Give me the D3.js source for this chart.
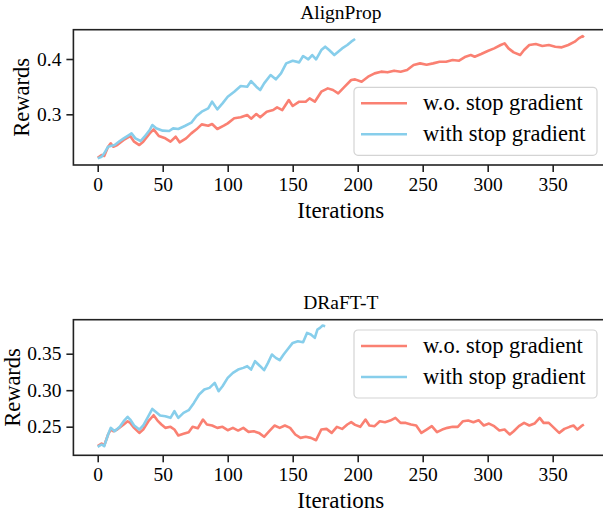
<!DOCTYPE html>
<html>
<head>
<meta charset="utf-8">
<script src="https://cdnjs.cloudflare.com/ajax/libs/d3/7.8.5/d3.min.js"></script>
<style>
  body { margin: 0; background: #fff; }
  svg text { font-family: "Liberation Serif", "DejaVu Serif", serif; fill: #000; }
</style>
</head>
<body>
<svg id="chart" width="603" height="513"></svg>
<script>
var seriesNames = ["w.o. stop gradient", "with stop gradient"];
var colors = ["#FA8072", "#87CEEB"];
var xTicks = [0, 50, 100, 150, 200, 250, 300, 350];

// AlignProp, w.o. stop gradient
var alignWoIter = [0,3,5,8,10,12,15,20,25,28,32,35,40,43,47,52,56,60,63,68,72,76,80,85,88,92,97,100,105,110,115,118,122,125,130,135,138,142,147,150,155,160,163,167,172,177,181,185,190,195,198,203,208,213,218,223,228,233,238,243,248,253,258,263,268,273,278,283,287,290,295,300,305,310,313,316,320,325,328,332,337,342,347,352,357,362,367,370,373,374];
var alignWoVal = [0.2215,0.2264,0.2246,0.2414,0.2475,0.2414,0.2444,0.2535,0.2607,0.2505,0.2444,0.2505,0.2655,0.2728,0.2607,0.2565,0.2505,0.2595,0.2493,0.2565,0.2655,0.2728,0.2818,0.2794,0.2824,0.2734,0.2794,0.2836,0.2927,0.2945,0.2987,0.2921,0.3005,0.2945,0.3047,0.3077,0.3126,0.3077,0.3258,0.3150,0.3228,0.3228,0.3288,0.3228,0.3409,0.3469,0.3439,0.3379,0.3499,0.3620,0.3632,0.3590,0.3680,0.3740,0.3771,0.3759,0.3789,0.3771,0.3801,0.3891,0.3921,0.3897,0.3921,0.3951,0.3951,0.3982,0.3969,0.4042,0.4072,0.4042,0.4090,0.4144,0.4192,0.4253,0.4283,0.4192,0.4120,0.4072,0.4162,0.4253,0.4271,0.4235,0.4253,0.4223,0.4211,0.4253,0.4313,0.4373,0.4415,0.4391];

// AlignProp, with stop gradient
var alignWithIter = [0,3,5,8,10,13,17,20,24,26,29,33,36,40,42,45,50,55,58,62,67,72,76,80,85,88,92,96,100,105,110,115,118,122,125,128,133,137,141,145,150,155,158,162,165,168,172,175,178,182,185,188,192,195,198];
var alignWithVal = [0.2203,0.2233,0.2294,0.2414,0.2426,0.2444,0.2517,0.2565,0.2625,0.2655,0.2565,0.2517,0.2595,0.2716,0.2806,0.2746,0.2704,0.2698,0.2746,0.2734,0.2788,0.2848,0.2969,0.3047,0.3107,0.3228,0.3089,0.3198,0.3318,0.3409,0.3511,0.3499,0.3602,0.3499,0.3439,0.3560,0.3710,0.3632,0.3740,0.3921,0.3969,0.3939,0.4054,0.3994,0.4072,0.3994,0.4162,0.4223,0.4162,0.4072,0.4132,0.4192,0.4253,0.4313,0.4361];

// DRaFT-T, w.o. stop gradient
var draftWoIter = [0,3,5,8,10,12,15,20,23,25,28,32,35,39,43,46,49,52,56,59,62,66,70,73,77,81,84,88,92,96,100,104,108,112,116,120,124,128,132,136,140,144,148,152,156,160,164,168,172,176,180,184,188,192,195,198,202,206,209,213,217,221,225,229,233,237,241,245,249,253,257,261,265,269,273,277,281,285,289,293,297,301,305,309,313,317,320,324,328,332,336,340,343,347,351,355,359,363,366,369,372,374];
var draftWoVal = [0.2233,0.2269,0.2242,0.2393,0.2461,0.2438,0.2461,0.2530,0.2575,0.2552,0.2484,0.2415,0.2461,0.2575,0.2657,0.2584,0.2530,0.2484,0.2498,0.2461,0.2379,0.2402,0.2425,0.2498,0.2479,0.2598,0.2530,0.2516,0.2484,0.2498,0.2452,0.2484,0.2447,0.2484,0.2429,0.2438,0.2415,0.2361,0.2438,0.2516,0.2484,0.2516,0.2484,0.2393,0.2347,0.2361,0.2347,0.2315,0.2461,0.2470,0.2415,0.2498,0.2470,0.2530,0.2562,0.2525,0.2498,0.2598,0.2516,0.2507,0.2575,0.2562,0.2584,0.2621,0.2552,0.2552,0.2530,0.2516,0.2415,0.2461,0.2507,0.2425,0.2461,0.2484,0.2498,0.2498,0.2575,0.2584,0.2562,0.2589,0.2516,0.2543,0.2507,0.2447,0.2461,0.2393,0.2438,0.2507,0.2552,0.2516,0.2543,0.2621,0.2552,0.2552,0.2484,0.2415,0.2470,0.2498,0.2516,0.2461,0.2507,0.2530];

// DRaFT-T, with stop gradient
var draftWithIter = [0,3,5,8,10,13,17,20,23,25,28,32,35,39,42,45,48,52,56,59,62,66,70,74,78,82,86,90,93,96,100,104,108,112,115,118,121,125,128,131,134,137,140,143,146,150,154,158,161,164,167,169,171,173,175];
var draftWithVal = [0.2224,0.2256,0.2233,0.2393,0.2484,0.2438,0.2498,0.2575,0.2635,0.2598,0.2516,0.2461,0.2516,0.2644,0.2744,0.2699,0.2653,0.2644,0.2621,0.2712,0.2621,0.2689,0.2726,0.2826,0.2941,0.3009,0.3032,0.3100,0.2986,0.3055,0.3169,0.3237,0.3283,0.3306,0.3329,0.3283,0.3397,0.3329,0.3274,0.3374,0.3489,0.3443,0.3411,0.3489,0.3557,0.3648,0.3671,0.3657,0.3785,0.3763,0.3717,0.3831,0.3854,0.3886,0.3877];

var svg = d3.select("#chart");

function drawPanel(opt) {
  var x = d3.scaleLinear().domain([-18.7, 392.7]).range([73.4, 608.2]);
  var y = d3.scaleLinear().domain(opt.yDomain).range([opt.bottom, opt.top]);
  var g = svg.append("g");

  var line = d3.line()
    .x(function(d) { return x(d[0]); })
    .y(function(d) { return y(d[1]); });

  opt.series.forEach(function(s, i) {
    var pts = s.iter.map(function(it, k) { return [it, s.val[k]]; });
    g.append("path")
      .datum(pts)
      .attr("fill", "none")
      .attr("stroke", colors[i])
      .attr("stroke-width", 2.6)
      .attr("stroke-linejoin", "round")
      .attr("d", line);
  });

  // frame (right spine falls outside the window)
  g.append("rect")
    .attr("x", x.range()[0]).attr("y", opt.top)
    .attr("width", x.range()[1] - x.range()[0])
    .attr("height", opt.bottom - opt.top)
    .attr("fill", "none").attr("stroke", "#222").attr("stroke-width", 1.6);

  var xa = g.append("g")
    .attr("transform", "translate(0," + opt.bottom + ")")
    .call(d3.axisBottom(x).tickValues(xTicks).tickSize(7).tickPadding(5).tickSizeOuter(0));
  var ya = g.append("g")
    .attr("transform", "translate(" + x.range()[0] + ",0)")
    .call(d3.axisLeft(y).tickValues(opt.yTicks).tickFormat(d3.format(opt.yFmt)).tickSize(7).tickPadding(5).tickSizeOuter(0));
  [xa, ya].forEach(function(a) {
    a.select(".domain").remove();
    a.selectAll(".tick line").attr("stroke", "#222").attr("stroke-width", 1.6);
    a.selectAll(".tick text").style("font-size", "19.5px").style("font-family", "Liberation Serif");
  });

  var cx = (x.range()[0] + x.range()[1]) / 2;
  g.append("text")
    .attr("x", cx).attr("y", opt.top - 11)
    .attr("text-anchor", "middle")
    .style("font-size", "19.5px")
    .text(opt.title);
  g.append("text")
    .attr("x", cx).attr("y", opt.bottom + 53)
    .attr("text-anchor", "middle")
    .style("font-size", "23px")
    .text("Iterations");
  g.append("text")
    .attr("transform", "translate(" + opt.ylabelX + "," + (opt.top + opt.bottom) / 2 + ") rotate(-90)")
    .attr("text-anchor", "middle")
    .style("font-size", "22.5px")
    .text("Rewards");

  // legend
  var lg = g.append("g").attr("transform", "translate(354," + opt.legendTop + ")");
  lg.append("rect")
    .attr("width", 243).attr("height", 68)
    .attr("rx", 4).attr("ry", 4)
    .attr("fill", "#fff").attr("fill-opacity", 0.8)
    .attr("stroke", "#d4d4d4").attr("stroke-width", 1.2);
  seriesNames.forEach(function(name, i) {
    var ry = 16 + i * 31;
    lg.append("line")
      .attr("x1", 7).attr("x2", 53)
      .attr("y1", ry).attr("y2", ry)
      .attr("stroke", colors[i]).attr("stroke-width", 2.6);
    lg.append("text")
      .attr("x", 69).attr("y", ry + 7)
      .style("font-size", "22.5px")
      .text(name);
  });
}

drawPanel({
  title: "AlignProp",
  top: 29.7, bottom: 165,
  yDomain: [0.2083, 0.453],
  yTicks: [0.3, 0.4], yFmt: ".1f",
  ylabelX: 28.5,
  legendTop: 87.3,
  series: [{iter: alignWoIter, val: alignWoVal}, {iter: alignWithIter, val: alignWithVal}]
});

drawPanel({
  title: "DRaFT-T",
  top: 319.7, bottom: 455.3,
  yDomain: [0.2108, 0.3966],
  yTicks: [0.25, 0.30, 0.35], yFmt: ".2f",
  ylabelX: 19.5,
  legendTop: 330,
  series: [{iter: draftWoIter, val: draftWoVal}, {iter: draftWithIter, val: draftWithVal}]
});
</script>
</body>
</html>
